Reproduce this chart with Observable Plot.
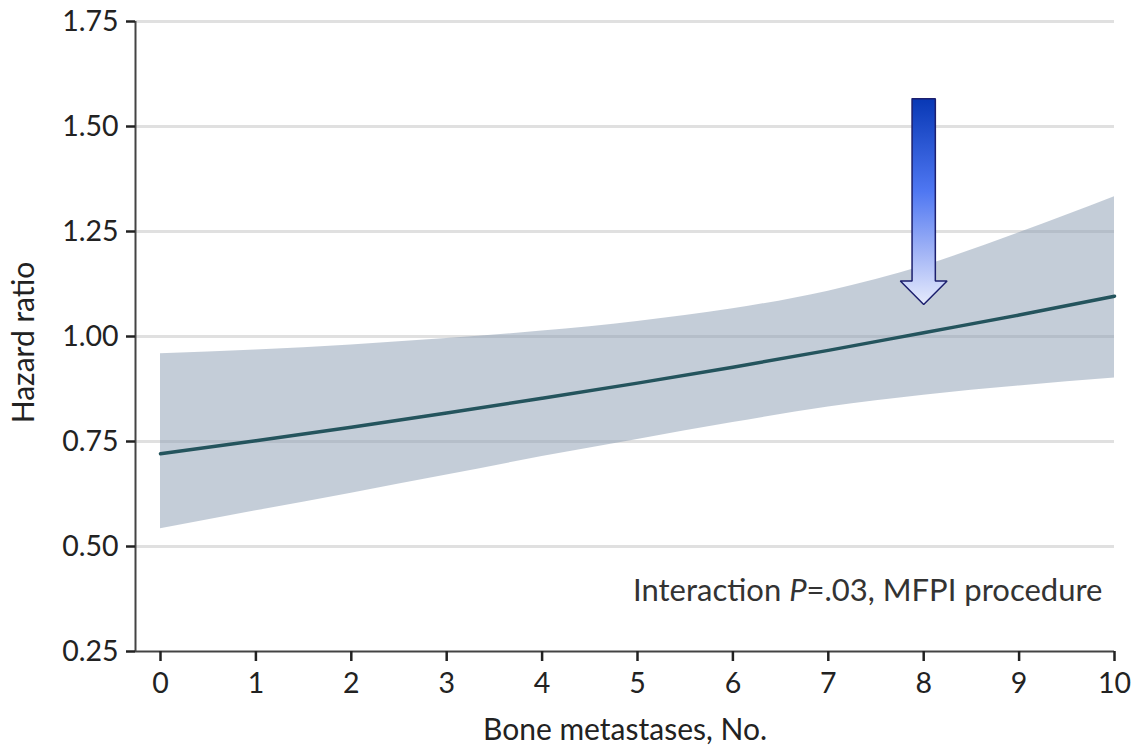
<!DOCTYPE html>
<html><head><meta charset="utf-8">
<script src="https://cdn.jsdelivr.net/npm/d3@7"></script>
<script src="https://cdn.jsdelivr.net/npm/@observablehq/plot@0.6"></script>
<style>
html,body{margin:0;padding:0;background:#fff;}
#chart svg{display:block;}
</style>
</head><body>
<svg width="0" height="0" style="position:absolute">
  <defs>
    <linearGradient id="arrowGrad" x1="0" y1="0" x2="0" y2="1">
      <stop offset="0" stop-color="#0838b5"/>
      <stop offset="0.45" stop-color="#4f77f2"/>
      <stop offset="0.75" stop-color="#a3b5f6"/>
      <stop offset="1" stop-color="#e6ebfc"/>
    </linearGradient>
  </defs>
</svg>
<div id="chart"></div>
<script>
// ---- Data ----
const boneMets    = [0, 1, 2, 3, 4, 5, 6, 7, 8, 9, 10];
const hazardRatio = [0.721, 0.752, 0.784, 0.818, 0.853, 0.889, 0.927, 0.967, 1.009, 1.051, 1.096];
const upperCI     = [0.959, 0.968, 0.980, 0.995, 1.013, 1.036, 1.066, 1.108, 1.168, 1.247, 1.333];
const lowerCI     = [0.542, 0.585, 0.627, 0.670, 0.714, 0.755, 0.795, 0.832, 0.860, 0.882, 0.901];

const xTicks = [0, 1, 2, 3, 4, 5, 6, 7, 8, 9, 10];
const yTicks = [0.25, 0.50, 0.75, 1.00, 1.25, 1.50, 1.75];

const xLabel = "Bone metastases, No.";
const yLabel = "Hazard ratio";
const annotationParts = ["Interaction ", "P", "=.03, MFPI procedure"];

// arrow annotation (data units)
const arrowX = 8;
const arrowTop = 1.566;
const arrowHeadBase = 1.132;
const arrowTip = 1.076;
const arrowShaftHalf = 0.122;
const arrowHeadHalf = 0.245;

// ---- Build ----
const rows = boneMets.map((x, i) => ({x, hr: hazardRatio[i], lo: lowerCI[i], hi: upperCI[i]}));
const arrowPoly = [
  {x: arrowX - arrowShaftHalf, y: arrowTop},
  {x: arrowX + arrowShaftHalf, y: arrowTop},
  {x: arrowX + arrowShaftHalf, y: arrowHeadBase},
  {x: arrowX + arrowHeadHalf,  y: arrowHeadBase},
  {x: arrowX,                  y: arrowTip},
  {x: arrowX - arrowHeadHalf,  y: arrowHeadBase},
  {x: arrowX - arrowShaftHalf, y: arrowHeadBase},
  {x: arrowX - arrowShaftHalf, y: arrowTop}
];

const FONT = "Lato, 'Open Sans', sans-serif";

const plot = Plot.plot({
  width: 1135,
  height: 750,
  marginLeft: 135,
  marginRight: 21,
  marginTop: 21,
  marginBottom: 99,
  style: {fontFamily: FONT, fontSize: "28px", color: "#222", background: "#fff"},
  x: {domain: [0, 10], insetLeft: 25},
  y: {domain: [0.25, 1.75]},
  marks: [
    Plot.ruleY(yTicks.slice(1), {stroke: "#e0e0e0", strokeWidth: 3}),
    Plot.areaY(rows, {x: "x", y1: "lo", y2: "hi", fill: "#8a9cb2", fillOpacity: 0.5, curve: "monotone-x"}),
    Plot.line(rows, {x: "x", y: "hr", stroke: "#24545d", strokeWidth: 3.5, curve: "monotone-x"}),
    Plot.ruleY([yTicks[0]], {stroke: "#444", strokeWidth: 2}),
    Plot.ruleX([xTicks[0]], {dx: -25, stroke: "#444", strokeWidth: 2}),
    Plot.axisY({ticks: yTicks, tickFormat: d3.format(".2f"), tickSize: 9, tickPadding: 8, strokeWidth: 2.5, fontSize: 28.5, label: null}),
    Plot.axisX({ticks: xTicks, tickFormat: d3.format("d"), tickSize: 10, tickPadding: 11, strokeWidth: 2.5, fontSize: 28.5, label: null}),
    Plot.line(arrowPoly, {x: "x", y: "y", fill: "url(#arrowGrad)", stroke: "#1c1f6e", strokeWidth: 1.5, strokeLinejoin: "miter"}),
    Plot.text([xLabel], {frameAnchor: "bottom", lineAnchor: "middle", textAnchor: "middle", dy: 79, fontSize: 30, fill: "#222"}),
    Plot.text([yLabel], {frameAnchor: "left", lineAnchor: "middle", textAnchor: "middle", dx: -111, dy: 6, rotate: -90, fontSize: 30, fill: "#222"}),
    Plot.text([annotationParts.join("")], {frameAnchor: "bottom-right", lineAnchor: "middle", textAnchor: "end", dx: -12, dy: -60, fontSize: 31, fill: "#333"})
  ]
});

// italic P in the annotation
d3.select(plot).selectAll("text").filter(function() { return this.textContent === annotationParts.join(""); })
  .each(function() {
    const t = d3.select(this);
    t.text(null);
    t.append("tspan").text(annotationParts[0]);
    t.append("tspan").attr("font-style", "italic").text(annotationParts[1]);
    t.append("tspan").text(annotationParts[2]);
  });

document.getElementById("chart").appendChild(plot);
</script>
</body></html>
